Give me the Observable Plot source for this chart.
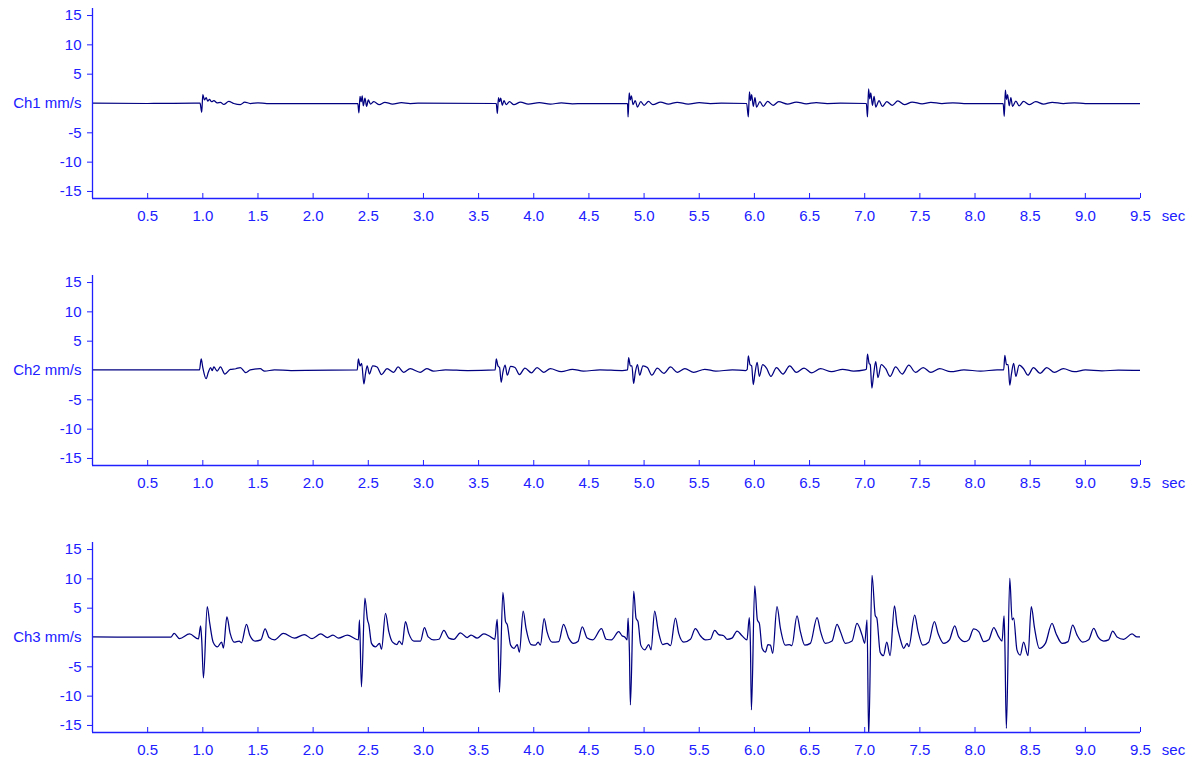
<!DOCTYPE html>
<html>
<head>
<meta charset="utf-8">
<script src="https://cdn.jsdelivr.net/npm/d3@7"></script>
<script src="https://cdn.jsdelivr.net/npm/@observablehq/plot@0.6"></script>
<style>
  html, body { margin: 0; padding: 0; background: #fff; }
  #chart svg { display: block; }
</style>
</head>
<body>
<div id="chart"></div>
<script>
// ---- data: [time (sec), velocity (mm/s)] ----
const ch1 = [
  [0,0.05],[0.5,0.0],[0.975,0.05],[0.99,-1.5],[1.0,1.5],[1.015,0.6],[1.03,1.0],[1.045,0.4],[1.06,0.7],[1.08,0.3],[1.1,0.5],[1.13,0.1],[1.16,0.2],[1.19,-0.15],[1.235,0.35],[1.28,0.0],[1.34,-0.2],[1.38,0.25],[1.43,0.0],[1.5,0.1],[1.58,0.0],
  [2.405,0],[2.415,-1.6],[2.425,1.2],[2.435,0.3],[2.445,1.3],[2.455,-0.4],[2.47,0.9],[2.485,-0.5],[2.5,0.6],[2.52,-0.1],[2.55,0.3],[2.6,-0.2],[2.65,0.2],[2.72,-0.1],[2.8,0.15],[2.88,0.0],[2.95,0.05],
  [3.66,0],[3.67,-1.7],[3.68,1.0],[3.69,0.3],[3.70,0.9],[3.715,-0.3],[3.73,0.5],[3.75,-0.2],[3.78,0.3],[3.82,-0.2],[3.88,0.25],[3.95,-0.1],[4.05,0.15],[4.15,-0.1],[4.25,0.1],[4.35,-0.05],[4.45,0],
  [4.85,0],[4.855,-2.3],[4.865,1.8],[4.875,0.6],[4.885,1.3],[4.9,-0.2],[4.92,0.5],[4.94,-0.6],[4.97,0.3],[5.0,-0.3],[5.04,0.35],[5.08,-0.2],[5.15,0.25],[5.22,-0.1],[5.3,0.2],[5.4,-0.1],[5.5,0.15],[5.6,0],[5.7,0.05],
  [5.93,0],[5.945,-2.3],[5.955,2.0],[5.965,0.5],[5.975,1.5],[5.99,-0.5],[6.005,1.0],[6.02,-0.6],[6.05,0.3],[6.08,-0.5],[6.12,0.35],[6.17,-0.3],[6.22,0.3],[6.3,-0.1],[6.38,0.25],[6.47,-0.05],[6.56,0.15],[6.66,0],[6.78,0.05],
  [7.015,0],[7.025,-2.3],[7.035,2.5],[7.045,0.8],[7.055,1.8],[7.07,-0.3],[7.085,1.2],[7.1,-0.6],[7.13,0.5],[7.16,-0.5],[7.2,0.3],[7.25,-0.3],[7.3,0.45],[7.36,-0.2],[7.43,0.25],[7.52,-0.05],[7.6,0.2],[7.7,0],[7.8,0.1],[7.9,0],
  [8.255,0],[8.265,-2.2],[8.275,2.3],[8.285,0.7],[8.295,1.5],[8.31,-0.4],[8.325,1.0],[8.34,-0.5],[8.37,0.4],[8.4,-0.4],[8.44,0.35],[8.49,-0.2],[8.55,0.3],[8.62,-0.1],[8.7,0.2],[8.8,0],[8.9,0.1],[9.0,0],[9.5,0]
];
const ch2 = [
  [0,0.1],[0.5,0.1],[0.97,0.1],[0.985,2.0],[1.0,0.5],[1.03,-1.4],[1.05,-0.3],[1.07,0.5],[1.085,0.0],[1.1,0.6],[1.13,-0.1],[1.16,0.6],[1.2,-0.6],[1.25,0.2],[1.3,0.3],[1.34,0.5],[1.39,-0.35],[1.43,0.1],[1.52,0.3],[1.56,-0.1],[1.65,0.1],[1.8,0.0],
  [2.40,0.1],[2.41,2.0],[2.425,0.8],[2.44,1.2],[2.46,-2.3],[2.475,-0.5],[2.49,0.8],[2.51,-0.6],[2.54,0.8],[2.58,0.6],[2.62,-0.7],[2.67,0.3],[2.73,-0.3],[2.77,0.6],[2.82,-0.3],[2.88,0.3],[2.97,-0.3],[3.03,0.3],[3.09,-0.1],[3.2,0.1],[3.4,0.0],
  [3.65,0.1],[3.66,2.0],[3.675,0.8],[3.69,0.5],[3.705,-2.0],[3.72,-0.3],[3.74,0.9],[3.76,-0.8],[3.79,0.7],[3.83,0.5],[3.87,-0.7],[3.92,0.4],[3.98,-0.4],[4.03,0.5],[4.09,-0.3],[4.15,0.3],[4.25,-0.2],[4.35,0.2],[4.45,-0.1],[4.6,0.1],[4.8,0],
  [4.85,0.1],[4.86,2.2],[4.875,0.8],[4.89,0.8],[4.905,-2.2],[4.92,-0.4],[4.94,1.0],[4.96,-0.8],[4.99,0.8],[5.03,0.5],[5.07,-0.8],[5.12,0.4],[5.18,-0.5],[5.24,0.6],[5.3,-0.3],[5.37,0.3],[5.45,-0.3],[5.55,0.2],[5.65,-0.1],[5.8,0.1],[5.92,0],
  [5.935,0.2],[5.945,2.5],[5.96,1.0],[5.975,0.8],[5.99,-2.4],[6.005,-0.5],[6.025,1.4],[6.045,-1.0],[6.075,1.0],[6.11,0.4],[6.15,-1.0],[6.2,0.5],[6.26,-0.6],[6.32,0.8],[6.38,-0.3],[6.45,0.4],[6.52,-0.4],[6.6,0.3],[6.7,-0.2],[6.8,0.2],[6.9,-0.1],[7.0,0.1],
  [7.015,0.2],[7.025,2.8],[7.04,1.2],[7.05,1.0],[7.065,-3.0],[7.08,-0.8],[7.1,1.5],[7.12,-1.2],[7.15,1.0],[7.19,0.3],[7.23,-1.0],[7.28,0.6],[7.34,-0.6],[7.4,0.9],[7.46,-0.3],[7.53,0.5],[7.6,-0.3],[7.68,0.3],[7.78,-0.2],[7.9,0.1],[8.05,-0.1],[8.2,0.1],
  [8.26,0.1],[8.27,2.6],[8.285,1.0],[8.3,1.0],[8.315,-2.5],[8.33,-0.6],[8.35,1.2],[8.37,-1.0],[8.4,0.9],[8.44,0.3],[8.48,-0.8],[8.53,0.5],[8.59,-0.5],[8.65,0.5],[8.72,-0.3],[8.8,0.3],[8.9,-0.2],[9.0,0.1],[9.15,-0.05],[9.3,0.05],[9.5,0]
];
const ch3 = [
  [0,0.1],[0.35,0.05],[0.71,0.05],[0.74,0.7],[0.79,-0.2],[0.88,0.6],[0.96,-0.25],[0.98,2.0],[0.99,-0.4],[1.006,-6.9],[1.04,5.25],[1.063,2.4],[1.094,-0.8],[1.133,-1.6],[1.17,-0.8],[1.187,-1.8],[1.218,3.5],[1.248,0.7],[1.284,-0.8],[1.33,-0.6],[1.35,-0.9],[1.396,2.25],[1.426,0.4],[1.474,-0.6],[1.526,-0.4],[1.565,1.45],[1.60,0.0],[1.65,-0.4],[1.73,0.7],[1.83,-0.1],[1.92,0.5],[1.99,-0.2],[2.07,0.6],[2.13,0.0],[2.18,0.4],[2.23,-0.1],[2.31,0.4],[2.39,-0.3],
  [2.41,-0.4],[2.42,3.0],[2.438,-8.4],[2.469,6.7],[2.493,3.0],[2.505,2.2],[2.529,-1.0],[2.565,-1.6],[2.602,-1.0],[2.62,-2.0],[2.656,4.1],[2.686,1.0],[2.72,-0.8],[2.76,-1.2],[2.78,-0.6],[2.807,-1.2],[2.837,2.7],[2.867,0.7],[2.913,-0.6],[2.973,-0.6],[3.009,1.7],[3.043,0.1],[3.094,-0.4],[3.14,-0.3],[3.185,1.2],[3.23,-0.1],[3.275,-0.3],[3.335,0.8],[3.396,0.0],[3.432,0.4],[3.487,-0.1],[3.547,0.6],[3.592,0.3],[3.647,-0.3],
  [3.668,3.1],[3.677,-0.7],[3.689,-9.35],[3.72,7.7],[3.744,2.7],[3.76,2.2],[3.79,-1.3],[3.82,-1.85],[3.85,-1.2],[3.87,-2.5],[3.904,4.5],[3.93,1.55],[3.976,-1.2],[4.015,-1.3],[4.04,-0.8],[4.06,-1.3],[4.094,3.2],[4.12,1.0],[4.167,-0.8],[4.227,-0.7],[4.27,2.25],[4.317,-0.1],[4.36,-1.0],[4.40,-0.7],[4.44,1.8],[4.484,-0.1],[4.535,-0.4],[4.614,1.5],[4.656,-0.3],[4.704,-0.4],[4.77,1.0],[4.80,0.3],[4.825,0.1],[4.846,-0.4],
  [4.855,3.3],[4.867,-2.4],[4.876,-11.5],[4.906,7.9],[4.927,3.3],[4.945,2.7],[4.97,-1.3],[5.006,-2.1],[5.042,-1.2],[5.063,-2.1],[5.096,4.5],[5.127,1.3],[5.169,-1.2],[5.208,-1.0],[5.24,-1.4],[5.284,3.3],[5.314,0.7],[5.36,-0.8],[5.42,-0.3],[5.465,1.5],[5.51,0.3],[5.556,-0.4],[5.60,-0.3],[5.64,1.2],[5.677,0.5],[5.722,0.3],[5.752,-0.3],[5.797,-0.1],[5.843,1.1],[5.888,0.3],[5.933,-0.4],
  [5.954,3.4],[5.964,-1.3],[5.973,-12.35],[6.003,8.8],[6.027,3.0],[6.045,2.4],[6.07,-1.85],[6.10,-2.5],[6.123,-1.2],[6.145,-1.3],[6.166,-2.7],[6.205,5.25],[6.236,1.55],[6.28,-1.3],[6.317,-1.2],[6.34,-1.4],[6.386,3.7],[6.417,1.0],[6.456,-1.3],[6.507,-1.0],[6.568,3.4],[6.60,1.0],[6.643,-1.0],[6.704,-0.6],[6.749,2.25],[6.78,1.0],[6.825,-1.0],[6.885,-0.6],[6.93,2.4],[6.976,0.4],[7.0,-1.0],
  [7.021,3.0],[7.036,-17],[7.066,10.6],[7.096,3.7],[7.11,3.3],[7.14,-2.5],[7.17,-3.1],[7.2,-0.8],[7.23,-3.1],[7.27,5.4],[7.293,2.1],[7.32,-0.1],[7.354,-1.85],[7.384,-1.0],[7.4,-1.55],[7.453,3.8],[7.484,1.0],[7.526,-1.3],[7.58,-0.8],[7.632,2.7],[7.665,0.7],[7.716,-1.0],[7.768,-0.4],[7.816,2.0],[7.852,0.1],[7.907,-0.7],[7.943,-0.4],[7.988,1.45],[8.034,1.0],[8.079,-0.7],[8.124,-0.4],[8.17,1.7],[8.215,0.1],[8.245,-0.6],
  [8.263,3.7],[8.27,-0.7],[8.284,-15.5],[8.315,10.1],[8.336,3.0],[8.35,3.3],[8.38,-2.1],[8.41,-3.0],[8.44,-0.8],[8.48,-3.1],[8.51,5.25],[8.54,1.55],[8.583,-1.85],[8.638,-1.0],[8.698,2.4],[8.734,0.7],[8.79,-1.0],[8.843,-0.7],[8.885,2.1],[8.925,0.4],[8.976,-0.8],[9.03,-0.4],[9.076,1.55],[9.115,0.1],[9.166,-0.6],[9.21,-0.4],[9.248,1.1],[9.287,0.1],[9.348,-0.3],[9.423,0.6],[9.468,0.1],[9.51,0.1]
];
const channels = ["Ch1 mm/s", "Ch2 mm/s", "Ch3 mm/s"];
const series = [ch1, ch2, ch3];
const xTicks = [0.5,1.0,1.5,2.0,2.5,3.0,3.5,4.0,4.5,5.0,5.5,6.0,6.5,7.0,7.5,8.0,8.5,9.0,9.5];
const yTicks = [-15,-10,-5,5,10,15];
const xDomain = [0, 9.5];
const yDomain = [-16.2, 16.2];
const xUnit = "sec";

// ---- styles ----
const AXIS = "#2020ff";
const LINE = "#000080";
const heights = [267, 267, 226];
const marginTop = 8, innerH = 190;

const root = document.getElementById("chart");
series.forEach((data, i) => {
  const h = heights[i];
  const mb = h - marginTop - innerH;
  const chart = Plot.plot({
    width: 1195,
    height: h,
    marginLeft: 92,
    marginRight: 55,
    marginTop,
    marginBottom: mb,
    style: { fontFamily: "'Liberation Sans', Arial, sans-serif", fontSize: "15px", color: AXIS, background: "#fff" },
    x: { domain: xDomain },
    y: { domain: yDomain },
    marks: [
      Plot.line(data, { x: d => d[0], y: d => d[1], stroke: LINE, strokeWidth: 1.25, curve: "monotone-x", clip: true }),
      Plot.ruleX([xDomain[0]], { stroke: AXIS, strokeWidth: 1.3 }),
      Plot.ruleY([yDomain[0]], { stroke: AXIS, strokeWidth: 1.3 }),
      Plot.ruleX(xTicks, { x: d => d, stroke: AXIS, insetTop: innerH - 5 }),
      Plot.axisX(xTicks, { tickSize: 0, tickPadding: 12, tickFormat: d => d.toFixed(1), fill: AXIS, label: null }),
      Plot.axisY(yTicks, { tickSize: 5, tickPadding: 6, tickFormat: d => String(d), fill: AXIS, stroke: AXIS, label: null }),
      Plot.axisY([0], { tickSize: 0, tickPadding: 11, tickFormat: () => channels[i], fill: AXIS, label: null }),
      Plot.text([xUnit], { text: d => d, frameAnchor: "bottom-right", textAnchor: "middle", lineAnchor: "top", dx: 33, dy: 12, fill: AXIS })
    ]
  });
  root.appendChild(chart);
});
</script>
</body>
</html>
